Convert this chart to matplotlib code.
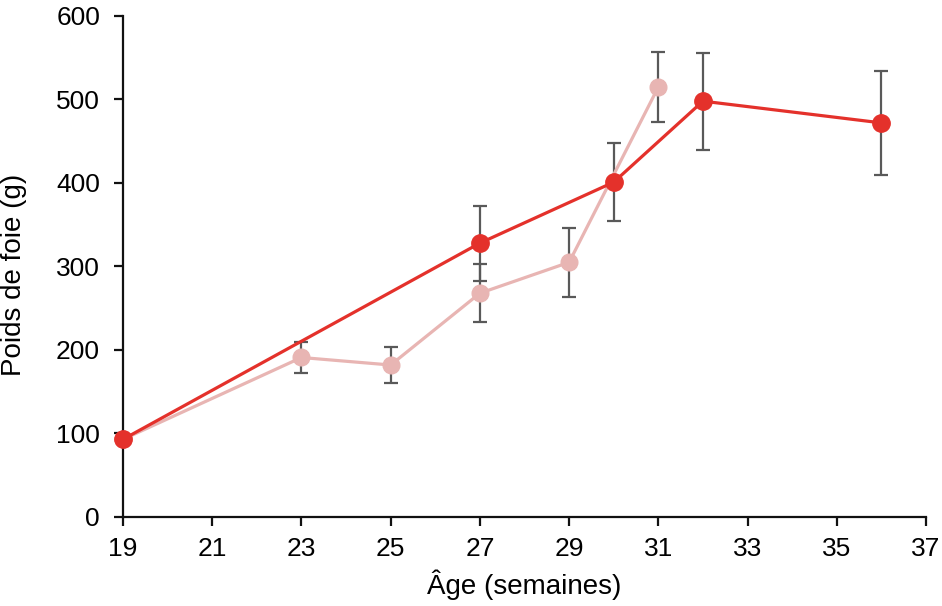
import matplotlib.pyplot as plt
import numpy as np

plt.rcParams['font.family'] = ['Liberation Sans', 'DejaVu Sans']

# pale series
age_pale = [19, 23, 25, 27, 29, 31]
poids_pale = [93, 191, 182, 268, 305, 515]
err_pale = [0, 19, 21, 35, 41, 42]

# red series
age_red = [19, 27, 30, 32, 36]
poids_red = [93, 328, 401, 498, 472]
err_red = [0, 45, 47, 58, 62]

xticks = [19, 21, 23, 25, 27, 29, 31, 33, 35, 37]
yticks = [0, 100, 200, 300, 400, 500, 600]

red = '#E4312B'
pale = '#E8B5B3'
grey = '#595959'

fig = plt.figure(figsize=(9.42, 6.06), dpi=100)
ax = fig.add_axes([0.1306, 0.1469, 0.983 - 0.1306, 0.9736 - 0.1469])

# error bars behind the markers
for x, y, e in zip(age_pale, poids_pale, err_pale):
    if e > 0:
        ax.errorbar(x, y, yerr=e, fmt='none', ecolor=grey, elinewidth=1.6,
                    capsize=4.8, capthick=1.6, zorder=1)
for x, y, e in zip(age_red, poids_red, err_red):
    if e > 0:
        ax.errorbar(x, y, yerr=e, fmt='none', ecolor=grey, elinewidth=1.6,
                    capsize=4.8, capthick=1.6, zorder=1)

ax.plot(age_pale, poids_pale, color=pale, lw=2.3, marker='o', ms=12,
        zorder=2, clip_on=False)
ax.plot(age_red, poids_red, color=red, lw=2.3, marker='o', ms=12.5,
        zorder=3, clip_on=False)

ax.set_xlim(19, 37)
ax.set_ylim(0, 600)
ax.set_xticks(xticks)
ax.set_yticks(yticks)
ax.tick_params(labelsize=19, width=1.6, length=6.5, color='#111111')
ax.tick_params(axis='y', pad=10)
ax.tick_params(axis='x', pad=8)
for s in ['top', 'right']:
    ax.spines[s].set_visible(False)
for s in ['left', 'bottom']:
    ax.spines[s].set_linewidth(1.6)
    ax.spines[s].set_color('#111111')

ax.set_xlabel('Âge (semaines)', fontsize=20, labelpad=6)
ax.set_ylabel('Poids de foie (g)', fontsize=20)
ax.yaxis.set_label_coords(-0.12, 0.483)

plt.savefig('out.png', dpi=100)
